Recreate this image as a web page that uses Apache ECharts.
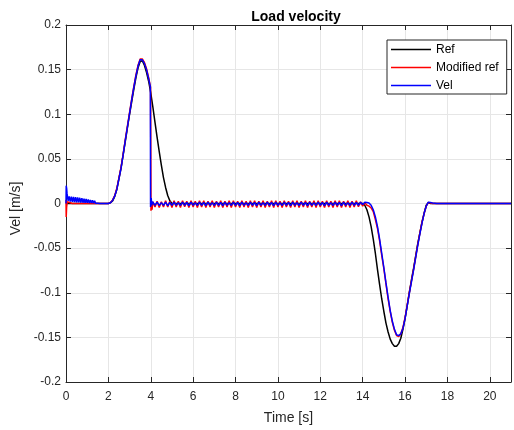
<!DOCTYPE html>
<html><head><meta charset="utf-8">
<script src="https://cdn.jsdelivr.net/npm/echarts@6/dist/echarts.min.js"></script>
<style>html,body{margin:0;padding:0;background:#fff}#c{width:514px;height:430px}</style>
</head><body><div id="c"></div>
<script>
// ---- data ----
const xTicks = [0,2,4,6,8,10,12,14,16,18,20];
const yTicks = [-0.2,-0.15,-0.1,-0.05,0,0.05,0.1,0.15,0.2];
const seriesNames = ['Ref','Modified ref','Vel'];

const refPts = [[0,0],[2.0,0],[2.1,0.001],[2.2,0.003],[2.3,0.008],[2.4,0.016],[2.5,0.028],[2.6,0.04],[2.7,0.055],[2.8,0.07],[2.9,0.085],[3.0,0.1],[3.1,0.114],[3.2,0.128],[3.3,0.141],[3.4,0.152],[3.5,0.159],[3.55,0.161],[3.6,0.16],[3.7,0.155],[3.8,0.147],[3.9,0.137],[4.0,0.124],[4.1,0.108],[4.2,0.091],[4.3,0.074],[4.4,0.058],[4.5,0.043],[4.6,0.029],[4.7,0.018],[4.8,0.009],[4.9,0.003],[5.0,0],[14.0,0],[14.1,-0.002],[14.2,-0.007],[14.3,-0.015],[14.4,-0.026],[14.5,-0.04],[14.6,-0.056],[14.7,-0.074],[14.8,-0.091],[14.9,-0.107],[15.0,-0.121],[15.1,-0.134],[15.2,-0.144],[15.3,-0.152],[15.4,-0.157],[15.5,-0.16],[15.55,-0.1605],[15.6,-0.16],[15.7,-0.157],[15.8,-0.151],[15.9,-0.141],[16.0,-0.129],[16.1,-0.115],[16.2,-0.1],[16.3,-0.086],[16.4,-0.073],[16.5,-0.059],[16.6,-0.045],[16.7,-0.033],[16.8,-0.021],[16.9,-0.011],[17.0,-0.002],[17.1,0.001],[17.2,0],[21,0]];

const modStart = [[0,0.004],[0.01,-0.015],[0.03,-0.004],[0.06,0.002],[0.1,0.0005],[0.3,0],[2.0,0]];
const modRise = [[2.1,0.001],[2.2,0.004],[2.3,0.009],[2.4,0.017],[2.5,0.029],[2.6,0.041],[2.7,0.056],[2.8,0.072],[2.9,0.087],[3.0,0.102],[3.1,0.117],[3.2,0.131],[3.3,0.144],[3.4,0.155],[3.5,0.162],[3.55,0.163],[3.6,0.162],[3.7,0.158],[3.8,0.151],[3.9,0.141],[3.99,0.13],[4.01,-0.008],[4.03,-0.004],[4.06,-0.007]];
const modDip = [[14.3,-0.003],[14.4,-0.005],[14.5,-0.009],[14.6,-0.018],[14.7,-0.028],[14.8,-0.042],[14.9,-0.058],[15.0,-0.073],[15.1,-0.09],[15.2,-0.107],[15.3,-0.121],[15.4,-0.133],[15.5,-0.142],[15.6,-0.148],[15.7,-0.149],[15.8,-0.146],[15.9,-0.139],[16.0,-0.128],[16.1,-0.114],[16.2,-0.1],[16.3,-0.087],[16.4,-0.074],[16.5,-0.06],[16.6,-0.046],[16.7,-0.033],[16.8,-0.021],[16.9,-0.011],[17.0,-0.003],[17.1,0.001],[17.2,0.0005],[17.3,0],[21,0]];

const velStart = [[0,0],[0.01,0.02],[0.03,0.017],[0.05,0.011],[0.08,0.009],[0.1,0.003],[0.15,0.008],[0.2,0.002],[0.25,0.0078],[0.3,0.0018],[0.35,0.0075],[0.4,0.0016],[0.45,0.0072],[0.5,0.0014],[0.55,0.0068],[0.6,0.0012],[0.65,0.0064],[0.7,0.001],[0.75,0.006],[0.8,0.0009],[0.85,0.0055],[0.9,0.0008],[0.95,0.005],[1.0,0.0007],[1.05,0.0045],[1.1,0.0006],[1.15,0.004],[1.2,0.0005],[1.25,0.0035],[1.3,0.0004],[1.35,0.003],[1.4,0.0003],[1.45,0.0025],[1.5,0.0002],[1.55,0.002],[1.6,0.0001],[1.65,0.0015],[1.7,0],[1.75,0.001],[1.8,0],[1.85,0.0006],[1.9,0],[2.0,0]];
const velRise = [[2.1,0.0008],[2.2,0.0035],[2.3,0.0085],[2.4,0.016],[2.5,0.028],[2.6,0.04],[2.7,0.055],[2.8,0.071],[2.9,0.086],[3.0,0.101],[3.1,0.116],[3.2,0.13],[3.3,0.143],[3.4,0.154],[3.5,0.161],[3.55,0.162],[3.6,0.161],[3.7,0.157],[3.8,0.15],[3.9,0.14],[3.98,0.131],[3.99,-0.004],[4.02,0.006],[4.05,-0.002],[4.08,0.002]];
const velDip = [[14.3,0.0005],[14.4,-0.002],[14.5,-0.007],[14.6,-0.015],[14.7,-0.026],[14.8,-0.04],[14.9,-0.056],[15.0,-0.072],[15.1,-0.089],[15.2,-0.105],[15.3,-0.12],[15.4,-0.132],[15.5,-0.141],[15.6,-0.147],[15.7,-0.148],[15.8,-0.146],[15.9,-0.14],[16.0,-0.129],[16.1,-0.115],[16.2,-0.101],[16.3,-0.088],[16.4,-0.075],[16.5,-0.061],[16.6,-0.047],[16.7,-0.034],[16.8,-0.022],[16.9,-0.011],[17.0,-0.003],[17.1,0.0015],[17.2,0.001],[17.3,0.0005],[17.5,0],[21,0]];

// oscillation segment (4.1 s .. 14.2 s)
const oscT = [4.1,4.2,4.3,4.4,4.5,4.6,4.7,4.8,4.9,5.0,5.1,5.2,5.3,5.4,5.5,5.6,5.7,5.8,5.9,6.0,6.1,6.2,6.3,6.4,6.5,6.6,6.7,6.8,6.9,7.0,7.1,7.2,7.3,7.4,7.5,7.6,7.7,7.8,7.9,8.0,8.1,8.2,8.3,8.4,8.5,8.6,8.7,8.8,8.9,9.0,9.1,9.2,9.3,9.4,9.5,9.6,9.7,9.8,9.9,10.0,10.1,10.2,10.3,10.4,10.5,10.6,10.7,10.8,10.9,11.0,11.1,11.2,11.3,11.4,11.5,11.6,11.7,11.8,11.9,12.0,12.1,12.2,12.3,12.4,12.5,12.6,12.7,12.8,12.9,13.0,13.1,13.2,13.3,13.4,13.5,13.6,13.7,13.8,13.9,14.0,14.1,14.2];
const modOsc = [0.002,-0.004,0.0025,-0.0045,0.002,-0.004,0.003,-0.004,0.0025,-0.0045,
0.003,-0.004,0.0025,-0.0045,0.003,-0.0035,0.0025,-0.0045,0.003,-0.004,
0.0025,-0.0045,0.003,-0.004,0.003,-0.0045,0.0025,-0.004,0.003,-0.0045,
0.0025,-0.004,0.003,-0.0045,0.0025,-0.004,0.003,-0.0045,0.003,-0.004,
0.0025,-0.0045,0.003,-0.004,0.0025,-0.0045,0.003,-0.004,0.003,-0.0045,
0.0025,-0.004,0.003,-0.0045,0.0025,-0.004,0.003,-0.0045,0.003,-0.004,
0.0025,-0.0045,0.003,-0.004,0.0025,-0.0045,0.003,-0.004,0.003,-0.0045,
0.0025,-0.004,0.003,-0.0045,0.0025,-0.004,0.003,-0.0045,0.003,-0.004,
0.0025,-0.0045,0.003,-0.004,0.0025,-0.0045,0.003,-0.004,0.003,-0.0045,
0.0025,-0.004,0.003,-0.0045,0.0025,-0.004,0.003,-0.0035,0.002,-0.003,
0.001,-0.002];
const velOsc = [0.001,-0.002,0.0015,-0.0022,0.001,-0.002,0.0015,-0.0025,0.0012,-0.002,
0.0015,-0.002,0.001,-0.0022,0.0015,-0.002,0.0012,-0.0025,0.0015,-0.002,
0.001,-0.0022,0.0015,-0.002,0.0012,-0.0025,0.0015,-0.002,0.001,-0.0022,
0.0015,-0.002,0.0012,-0.0025,0.0015,-0.002,0.001,-0.0022,0.0015,-0.002,
0.0012,-0.0025,0.0015,-0.002,0.001,-0.0022,0.0015,-0.002,0.0012,-0.0025,
0.0015,-0.002,0.001,-0.0022,0.0015,-0.002,0.0012,-0.0025,0.0015,-0.002,
0.001,-0.0022,0.0015,-0.002,0.0012,-0.0025,0.0015,-0.002,0.001,-0.0022,
0.0015,-0.002,0.0012,-0.0025,0.0015,-0.002,0.001,-0.0022,0.0015,-0.002,
0.0012,-0.0025,0.0015,-0.002,0.001,-0.0022,0.0015,-0.002,0.0012,-0.0025,
0.0015,-0.002,0.001,-0.0022,0.0015,-0.002,0.0012,-0.002,0.0015,-0.001,
0.0015,0.001];

// ---- build ----
const pair = (ts, vs) => ts.map((t, i) => [t, vs[i]]);
const modData = [].concat(modStart, modRise, pair(oscT, modOsc), modDip);
const velData = [].concat(velStart, velRise, pair(oscT, velOsc), velDip);

const FONT = "'Liberation Sans', Arial, Helvetica, sans-serif";
const AX = '#262626';
const fmtY = v => String(+(+v).toFixed(4));
const fmtX = v => (Math.abs(v % 2) < 1e-9 ? String(v) : '');

const chart = echarts.init(document.getElementById('c'), null, {renderer: 'canvas'});
chart.setOption({
  animation: false,
  backgroundColor: '#fff',
  title: {
    text: 'Load velocity', left: 291, top: 5, textAlign: 'center',
    textStyle: {fontFamily: FONT, fontSize: 14, fontWeight: 'bold', color: '#000'}
  },
  legend: {
    data: seriesNames, orient: 'vertical', left: 387, top: 40,
    icon: 'rect', itemWidth: 40, itemHeight: 1.5, itemGap: 5,
    padding: [3, 8, 2, 4],
    borderColor: '#262626', borderWidth: 1, backgroundColor: '#fff',
    textStyle: {fontFamily: FONT, fontSize: 12, color: '#000', lineHeight: 13}
  },
  grid: {left: 66, right: -2, top: 25, bottom: 47},
  xAxis: [{
    type: 'value', position: 'bottom', min: 0, max: 21, interval: 2,
    name: 'Time [s]', nameLocation: 'middle', nameGap: 29,
    nameTextStyle: {fontFamily: FONT, fontSize: 14, color: AX},
    axisLine: {show: true, onZero: false, lineStyle: {color: AX, width: 1}},
    axisTick: {show: true, inside: true, length: 5, lineStyle: {color: AX}},
    axisLabel: {fontFamily: FONT, fontSize: 12, color: AX, margin: 9, formatter: fmtX},
    splitLine: {show: true, lineStyle: {color: '#e6e6e6', width: 1}}
  }, {
    type: 'value', position: 'top', min: 0, max: 21, interval: 2,
    axisLine: {show: true, onZero: false, lineStyle: {color: AX, width: 1}},
    axisTick: {show: true, inside: true, length: 5, lineStyle: {color: AX}},
    axisLabel: {show: false}, splitLine: {show: false}
  }],
  yAxis: [{
    type: 'value', position: 'left', min: -0.2, max: 0.2, interval: 0.05,
    name: 'Vel [m/s]', nameLocation: 'middle', nameGap: 42, nameRotate: 90,
    nameTextStyle: {fontFamily: FONT, fontSize: 14, color: AX, padding: [0, 10, 0, 0]},
    axisLine: {show: true, onZero: false, lineStyle: {color: AX, width: 1}},
    axisTick: {show: true, inside: true, length: 5, lineStyle: {color: AX}},
    axisLabel: {fontFamily: FONT, fontSize: 12, color: AX, margin: 5, formatter: fmtY},
    splitLine: {show: true, lineStyle: {color: '#e6e6e6', width: 1}}
  }, {
    type: 'value', position: 'right', min: -0.2, max: 0.2, interval: 0.05,
    axisLine: {show: true, onZero: false, lineStyle: {color: AX, width: 1}},
    axisTick: {show: true, inside: true, length: 5, lineStyle: {color: AX}},
    axisLabel: {show: false}, splitLine: {show: false}
  }],
  series: [
    {name: seriesNames[0], type: 'line', data: refPts, showSymbol: false, symbol: 'none',
     color: '#000000', lineStyle: {color: '#000000', width: 1.5}, z: 2},
    {name: seriesNames[1], type: 'line', data: modData, showSymbol: false, symbol: 'none',
     color: '#ff0000', lineStyle: {color: '#ff0000', width: 1.5}, z: 3},
    {name: seriesNames[2], type: 'line', data: velData, showSymbol: false, symbol: 'none',
     color: '#0000ff', lineStyle: {color: '#0000ff', width: 1.5}, z: 4}
  ]
});
</script></body></html>
